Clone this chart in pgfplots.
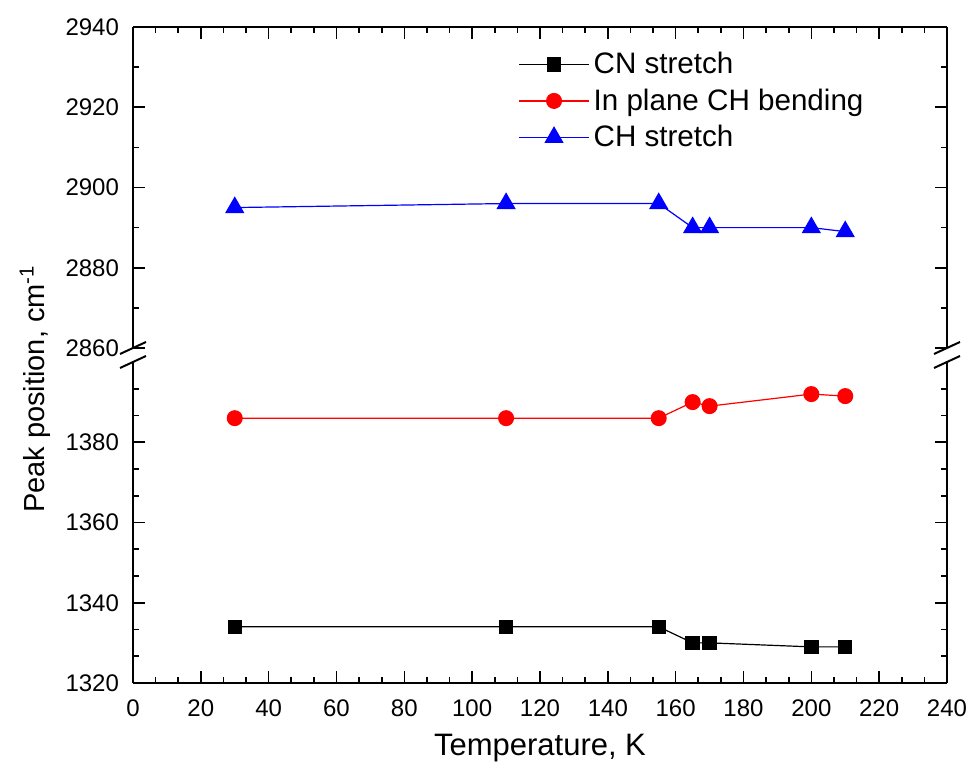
\documentclass[border=0pt]{standalone}
\usepackage{fontspec}
\setmainfont{Liberation Sans}
\usepackage{pgfplots}
\pgfplotsset{compat=1.18}
\begin{document}
\begin{tikzpicture}
\path[use as bounding box] (0pt,0pt) rectangle (485pt,387.5pt);
\pgfplotsset{
 common/.style={
  scale only axis, width=407pt, height=160.5pt,
  anchor=south west,
  xmin=0, xmax=240, xtick={0,20,...,240}, minor x tick num=2,
  tick align=inside, major tick length=6pt, minor tick length=3pt,
  every tick/.style={black, line width=0.8pt},
  axis line style={line width=1pt},
  /pgf/number format/assume math mode=true,
  /pgf/number format/1000 sep={},
  tick label style={font=\fontsize{12}{14}\selectfont},
  xticklabel style={yshift=-5pt},
  yticklabel style={xshift=-3.5pt},
  clip=false,
 }
}
% lower axis
\begin{axis}[common, at={(66.5pt,46pt)},
  ymin=1320, ymax=1400,
  ytick={1320,1340,1360,1380},
  minor ytick={1326.667,1333.333,1346.667,1353.333,1366.667,1373.333,1386.667,1393.333},
  axis x line*=bottom, axis y line*=box]
\addplot[black, line width=0.6pt, mark=square*, mark size=3.3pt, mark options={solid}] coordinates {
 (30,1334) (110,1334) (155,1334) (165,1330) (170,1330) (200,1329) (210,1329)};
\addplot[red, line width=0.6pt, mark=*, mark size=3.7pt] coordinates {
 (30,1386) (110,1386) (155,1386) (165,1390) (170,1389) (200,1392) (210,1391.5)};
\end{axis}
% upper axis
\begin{axis}[common, at={(66.5pt,213.5pt)},
  ymin=2860, ymax=2940,
  ytick={2860,2880,...,2940}, minor y tick num=1,
  xticklabels={},
  axis x line*=top, axis y line*=box,
  legend style={at={(axis description cs:0.473,0.935)}, anchor=north west,
    draw=none, fill=none, font=\fontsize{14.8}{16}\selectfont, row sep=2pt, inner sep=0pt},
  legend cell align=left,
  legend image code/.code={\draw[mark repeat=2, mark phase=2] plot coordinates {(0pt,0pt) (17.5pt,0pt) (35pt,0pt)};}]
\addlegendimage{black, line width=0.6pt, mark=square*, mark size=3.3pt}
\addlegendentry{CN stretch}
\addlegendimage{red, line width=0.6pt, mark=*, mark size=3.7pt}
\addlegendentry{In plane CH bending}
\addplot[blue, line width=0.6pt, mark=triangle*, mark size=5pt] coordinates {
 (30,2895) (110,2896) (155,2896) (165,2890) (170,2890) (200,2890) (210,2889)};
\addlegendentry{CH stretch}
\end{axis}
% axis break marks
\foreach \xx in {66.5,473.5}{
  \draw[line width=1pt] (\xx pt-6.5pt,210.5pt) -- (\xx pt+6.5pt,216.5pt);
  \draw[line width=1pt] (\xx pt-6.5pt,203.5pt) -- (\xx pt+6.5pt,209.5pt);
}
\node[rotate=90, font=\fontsize{14.5}{16}\selectfont] at (17.5pt,193pt) {Peak position, cm\textsuperscript{-1}};
\node[font=\fontsize{15.5}{17}\selectfont] at (270pt,13.5pt) {Temperature, K};
\end{tikzpicture}
\end{document}
